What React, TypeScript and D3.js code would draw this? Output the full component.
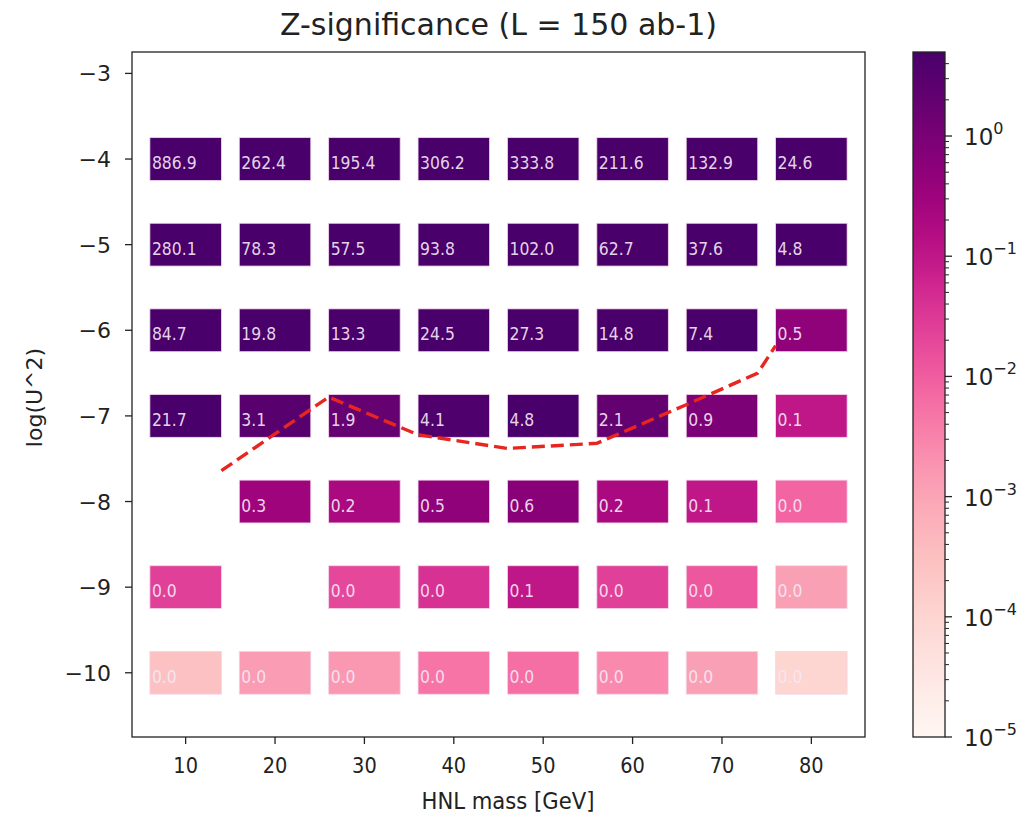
import React from 'react';
import * as d3 from 'd3';

// ---- data ----
const masses = [10, 20, 30, 40, 50, 60, 70, 80];
const logU2 = [-4, -5, -6, -7, -8, -9, -10];
// significance per row (log U^2 = -4 ... -10), null = no cell
const sigM4 = [886.9, 262.4, 195.4, 306.2, 333.8, 211.6, 132.9, 24.6];
const sigM5 = [280.1, 78.3, 57.5, 93.8, 102.0, 62.7, 37.6, 4.8];
const sigM6 = [84.7, 19.8, 13.3, 24.5, 27.3, 14.8, 7.4, 0.5];
const sigM7 = [21.7, 3.1, 1.9, 4.1, 4.8, 2.1, 0.9, 0.1];
const sigM8 = [null, 0.3, 0.2, 0.5, 0.6, 0.2, 0.1, 0.008];
const sigM9 = [0.025, null, 0.02, 0.04, 0.1, 0.025, 0.012, 0.0012];
const sigM10 = [0.0003, 0.0014, 0.0016, 0.005, 0.006, 0.0025, 0.0012, 0.0001];
const sigRows = [sigM4, sigM5, sigM6, sigM7, sigM8, sigM9, sigM10];

// dashed red contour
const contourMass = [14, 26, 36, 46, 56, 66, 74, 76];
const contourLogU2 = [-7.64, -6.78, -7.22, -7.38, -7.32, -6.87, -6.5, -6.18];

const xTicks = [10, 20, 30, 40, 50, 60, 70, 80];
const yTicks = [-3, -4, -5, -6, -7, -8, -9, -10];
const cbarExps = [0, -1, -2, -3, -4, -5];

const title = 'Z-significance (L = 150 ab-1)';
const xLabel = 'HNL mass [GeV]';
const yLabel = 'log(U^2)';

// ---- layout ----
const W = 1028;
const H = 815;
const plot = { left: 132, right: 865, top: 52, bottom: 737 };
const cbar = { left: 913, right: 945, top: 52, bottom: 737 };
const FONT = '"DejaVu Sans", Verdana, sans-serif';

export default function App() {
  const x = d3.scaleLinear().domain([4, 86]).range([plot.left, plot.right]);
  const y = d3.scaleLinear().domain([-10.75, -2.75]).range([plot.bottom, plot.top]);
  const vmin = 1e-5;
  const vmax = 5;
  const color = d3.scaleSequentialLog(d3.interpolateRdPu).domain([vmin, vmax]).clamp(true);
  const cy = d3.scaleLog().domain([vmin, vmax]).range([cbar.bottom, cbar.top]);

  const cells: { m: number; u: number; v: number }[] = [];
  sigRows.forEach((row, i) => {
    row.forEach((v, j) => {
      if (v !== null && v !== undefined) cells.push({ m: masses[j], u: logU2[i], v: v as number });
    });
  });

  const line = d3
    .line<number>()
    .x((_, i) => x(contourMass[i]))
    .y((_, i) => y(contourLogU2[i]));
  const linePath = line(contourMass) || '';

  const nStops = 60;
  const stops = d3.range(nStops + 1).map((i) => {
    const t = i / nStops;
    const lv = Math.log10(vmin) + t * (Math.log10(vmax) - Math.log10(vmin));
    return { offset: t, c: color(Math.pow(10, lv)) };
  });

  const minorTicks: number[] = [];
  for (let e = -5; e <= 0; e++) {
    for (let k = 2; k <= 9; k++) {
      const v = k * Math.pow(10, e);
      if (v < vmax) minorTicks.push(v);
    }
  }

  const cellW = Math.abs(x(14) - x(6));
  const cellH = Math.abs(y(-4.25) - y(-3.75));

  return (
    <svg width={W} height={H} style={{ position: 'absolute', left: 0, top: 0, background: '#fff' }} fontFamily={FONT}>
      <defs>
        <linearGradient id="cbarGrad" x1="0" y1="1" x2="0" y2="0">
          {stops.map((s, i) => (
            <stop key={i} offset={s.offset} stopColor={s.c} />
          ))}
        </linearGradient>
      </defs>

      {/* title */}
      <text x={(plot.left + plot.right) / 2} y={35} textAnchor="middle" fontSize={30} fill="#222">
        {title}
      </text>

      {/* cells */}
      {cells.map((c, i) => (
        <g key={i}>
          <rect
            x={x(c.m - 4)}
            y={y(c.u + 0.25)}
            width={cellW}
            height={cellH}
            fill={color(c.v)}
            stroke="#f3d6ea"
            strokeWidth={0.8}
          />
          <text
            transform={`translate(${x(c.m - 4) + 2},${y(c.u) + 10}) scale(0.92,1)`}
            fontSize={17}
            fill="#f6e8f6"
            fillOpacity={0.92}
          >
            {c.v.toFixed(1)}
          </text>
        </g>
      ))}

      {/* contour */}
      <path d={linePath} fill="none" stroke="#e8251f" strokeWidth={3.4} strokeDasharray="13,6" />

      {/* frame */}
      <rect
        x={plot.left}
        y={plot.top}
        width={plot.right - plot.left}
        height={plot.bottom - plot.top}
        fill="none"
        stroke="#222"
        strokeWidth={1.3}
      />

      {/* x axis */}
      {xTicks.map((t) => (
        <g key={t}>
          <line x1={x(t)} x2={x(t)} y1={plot.bottom} y2={plot.bottom + 7} stroke="#222" strokeWidth={1.3} />
          <text
            transform={`translate(${x(t)},${plot.bottom + 36}) scale(0.88,1)`}
            textAnchor="middle"
            fontSize={22}
            fill="#222"
          >
            {t}
          </text>
        </g>
      ))}
      <text
        transform={`translate(${508},${plot.bottom + 72}) scale(0.92,1)`}
        textAnchor="middle"
        fontSize={23}
        fill="#222"
      >
        {xLabel}
      </text>

      {/* y axis */}
      {yTicks.map((t) => (
        <g key={t}>
          <line x1={plot.left - 7} x2={plot.left} y1={y(t)} y2={y(t)} stroke="#222" strokeWidth={1.3} />
          <text x={plot.left - 21} y={y(t) + 8} textAnchor="end" fontSize={22} fill="#222">
            {'\u2212' + Math.abs(t)}
          </text>
        </g>
      ))}
      <text
        transform={`translate(${42},${(plot.top + plot.bottom) / 2 + 3}) rotate(-90)`}
        textAnchor="middle"
        fontSize={22}
        fill="#222"
      >
        {yLabel}
      </text>

      {/* colorbar */}
      <rect
        x={cbar.left}
        y={cbar.top}
        width={cbar.right - cbar.left}
        height={cbar.bottom - cbar.top}
        fill="url(#cbarGrad)"
        stroke="#222"
        strokeWidth={1.3}
      />
      {minorTicks.map((v, i) => (
        <line key={i} x1={cbar.right} x2={cbar.right + 4} y1={cy(v)} y2={cy(v)} stroke="#222" strokeWidth={1} />
      ))}
      {cbarExps.map((e) => (
        <g key={e}>
          <line
            x1={cbar.right}
            x2={cbar.right + 7}
            y1={cy(Math.pow(10, e))}
            y2={cy(Math.pow(10, e))}
            stroke="#222"
            strokeWidth={1.3}
          />
          <text x={cbar.right + 19} y={cy(Math.pow(10, e)) + 9} fontSize={23} fill="#222">
            10
            <tspan dy={-11} fontSize={16}>
              {e === 0 ? '0' : '\u2212' + Math.abs(e)}
            </tspan>
          </text>
        </g>
      ))}
    </svg>
  );
}
